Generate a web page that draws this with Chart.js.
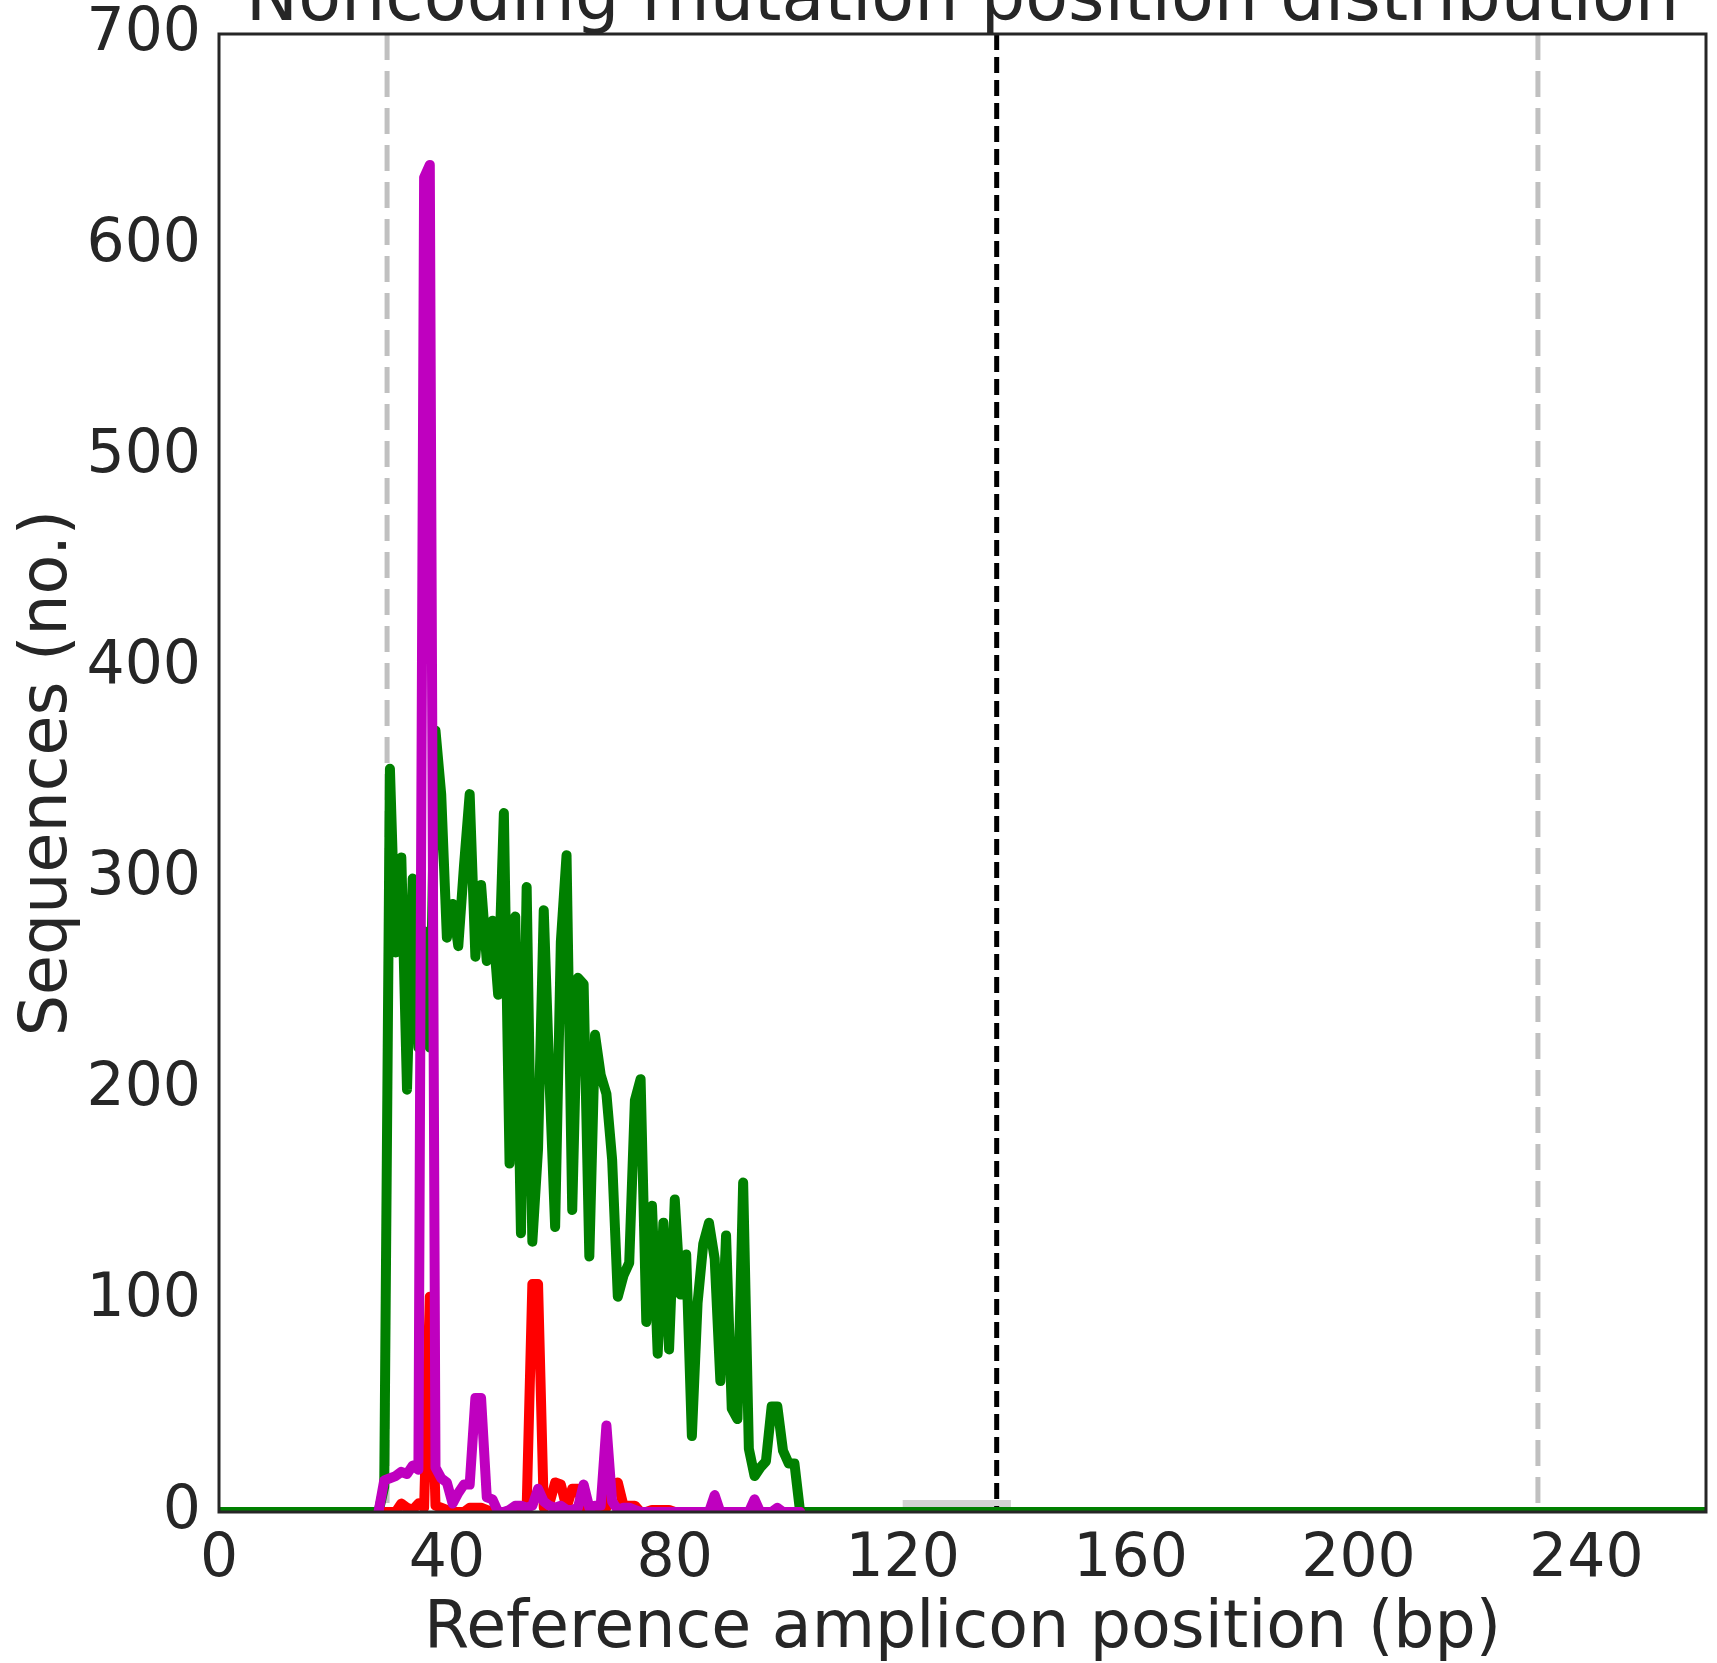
<!DOCTYPE html>
<html>
<head>
<meta charset="utf-8">
<script src="https://cdn.jsdelivr.net/npm/chart.js@4.4.1/dist/chart.umd.min.js"></script>
<style>
html, body { margin: 0; padding: 0; background: #fff; }
#wrap { width: 1717px; height: 1663px; }
</style>
</head>
<body>
<div id="wrap"><canvas id="mutChart" width="1717" height="1663"></canvas></div>
<script>
// amplicon positions covered by the mutation arrays start here
const firstPos = 28;
const ampliconLen = 262;

// positions 28 .. 102
const substitutions = [
    0, 12, 352, 265, 310, 200, 300, 220, 275, 220,
    370, 340, 272, 288, 268, 306, 340, 263, 297, 261,
    280, 245, 331, 165, 282, 132, 296, 128, 172, 285,
    205, 135, 270, 311, 143, 253, 250, 121, 226, 207,
    198, 167, 102, 112, 118, 195, 205, 90, 145, 75,
    137, 77, 148, 103, 122, 36, 99, 127, 137, 120,
    62, 131, 49, 44, 156, 30, 17, 21, 24, 50,
    50, 29, 23, 23, 0
];
const insertions = [
    0, 0, 0, 0, 4, 2, 1, 4, 2, 102,
    3, 2, 1, 0, 0, 0, 2, 2, 2, 1,
    0, 0, 0, 0, 0, 1, 2, 108, 108, 2,
    4, 14, 13, 2, 11, 11, 2, 0, 0, 1,
    2, 13, 14, 3, 3, 3, 0, 0, 1, 1,
    1, 1, 0, 0, 0, 0, 0, 0, 0, 1,
    0, 0, 0, 0, 0, 0, 0, 0, 0, 0,
    0, 0, 0, 0, 0
];
const deletions = [
    0, 15, 16, 17, 19, 18, 22, 20, 632, 638,
    21, 16, 14, 4, 9, 13, 13, 54, 54, 7,
    6, 0, 0, 1, 3, 3, 2, 3, 11, 5,
    3, 2, 3, 1, 1, 2, 13, 2, 3, 3,
    41, 5, 1, 2, 2, 1, 0, 0, 0, 0,
    0, 0, 0, 0, 0, 0, 0, 0, 0, 8,
    0, 0, 0, 0, 0, 0, 6, 0, 0, 0,
    2, 0, 0, 0, 0
];

const xTicks = [0, 40, 80, 120, 160, 200, 240];
const yTicks = [0, 100, 200, 300, 400, 500, 600, 700];
const windowLines = [29.5, 231.5];
const cutSites = [136.5];
const sgRNA = [120, 139];

function toPoints(values) {
    return values.map((v, i) => ({ x: firstPos + i, y: v }));
}

// substitutions are plotted along the whole amplicon
function alongAmplicon(values) {
    const pts = [];
    for (let p = 0; p < ampliconLen; p++) {
        const i = p - firstPos;
        pts.push({ x: p, y: (i >= 0 && i < values.length) ? values[i] : 0 });
    }
    return pts;
}

const guides = {
    id: 'guides',
    beforeDatasetsDraw(chart) {
        const { ctx, chartArea, scales } = chart;
        const x = scales.x, y = scales.y;
        ctx.save();
        ctx.beginPath();
        ctx.rect(chartArea.left, chartArea.top, chartArea.right - chartArea.left, chartArea.bottom - chartArea.top);
        ctx.clip();

        // sgRNA box
        const x0 = x.getPixelForValue(sgRNA[0]);
        const x1 = x.getPixelForValue(sgRNA[1]);
        ctx.fillStyle = '#d3d3d3';
        ctx.fillRect(x0, y.getPixelForValue(0) - 12, x1 - x0, 12);

        ctx.lineWidth = 5;
        ctx.strokeStyle = '#c0c0c0';
        ctx.setLineDash([26, 11]);
        windowLines.forEach(v => {
            const px = x.getPixelForValue(v);
            ctx.beginPath();
            ctx.moveTo(px, chartArea.top);
            ctx.lineTo(px, chartArea.bottom);
            ctx.stroke();
        });

        ctx.lineWidth = 5;
        ctx.strokeStyle = '#000000';
        ctx.setLineDash([16, 7]);
        cutSites.forEach(v => {
            const px = x.getPixelForValue(v);
            ctx.beginPath();
            ctx.moveTo(px, chartArea.top);
            ctx.lineTo(px, chartArea.bottom);
            ctx.stroke();
        });
        ctx.restore();
    },
    afterDatasetsDraw(chart) {
        const { ctx, chartArea } = chart;
        ctx.save();
        ctx.strokeStyle = '#262626';
        ctx.lineWidth = 3;
        ctx.strokeRect(chartArea.left, chartArea.top, chartArea.right - chartArea.left, chartArea.bottom - chartArea.top);
        ctx.restore();
    },
    afterDraw(chart) {
        const { ctx, chartArea } = chart;
        ctx.save();
        ctx.fillStyle = '#262626';
        ctx.font = '70px "DejaVu Sans"';
        ctx.textAlign = 'center';
        ctx.textBaseline = 'alphabetic';
        ctx.fillText('Noncoding mutation position distribution', (chartArea.left + chartArea.right) / 2, 20);
        ctx.restore();
    }
};

Chart.defaults.font.family = '"DejaVu Sans"';
Chart.defaults.color = '#262626';

const lineStyle = {
    borderWidth: 10,
    pointRadius: 0,
    tension: 0,
    fill: false,
    clip: 0,
    borderJoinStyle: 'round',
    borderCapStyle: 'round'
};

new Chart(document.getElementById('mutChart'), {
    type: 'line',
    data: {
        datasets: [
            Object.assign({ label: 'Deletions', data: toPoints(deletions), borderColor: '#bf00bf', order: 0 }, lineStyle),
            Object.assign({ label: 'Insertions', data: toPoints(insertions), borderColor: '#ff0000', order: 1 }, lineStyle),
            Object.assign({ label: 'Substitutions', data: alongAmplicon(substitutions), borderColor: '#008000', order: 2 }, lineStyle)
        ]
    },
    options: {
        responsive: false,
        devicePixelRatio: 1,
        animation: false,
        layout: { padding: { top: 34, right: 11, left: 0, bottom: 0 } },
        plugins: {
            legend: { display: false },
            tooltip: { enabled: false },
            title: { display: false }
        },
        scales: {
            x: {
                type: 'linear',
                min: 0,
                max: 261,
                grid: { display: false },
                border: { display: false },
                ticks: { font: { size: 60 }, padding: 4, maxRotation: 0, autoSkip: false, color: '#262626' },
                afterBuildTicks: s => { s.ticks = xTicks.map(v => ({ value: v })); },
                afterFit: s => { s.height = 151; s.paddingLeft = 0; s.paddingRight = 0; },
                title: {
                    display: true,
                    text: 'Reference amplicon position (bp)',
                    font: { size: 65, lineHeight: 1 },
                    padding: { top: 0, bottom: 0 },
                    color: '#262626'
                }
            },
            y: {
                min: 0,
                max: 700,
                grid: { display: false },
                border: { display: false },
                ticks: { font: { size: 60 }, padding: 10, color: '#262626' },
                afterBuildTicks: s => { s.ticks = yTicks.map(v => ({ value: v })); },
                afterFit: s => { s.width = 219; s.paddingTop = 0; s.paddingBottom = 0; },
                title: {
                    display: true,
                    text: 'Sequences (no.)',
                    font: { size: 65, lineHeight: 1 },
                    padding: { top: 17, bottom: 0 },
                    color: '#262626'
                }
            }
        }
    },
    plugins: [guides]
});
</script>
</body>
</html>
